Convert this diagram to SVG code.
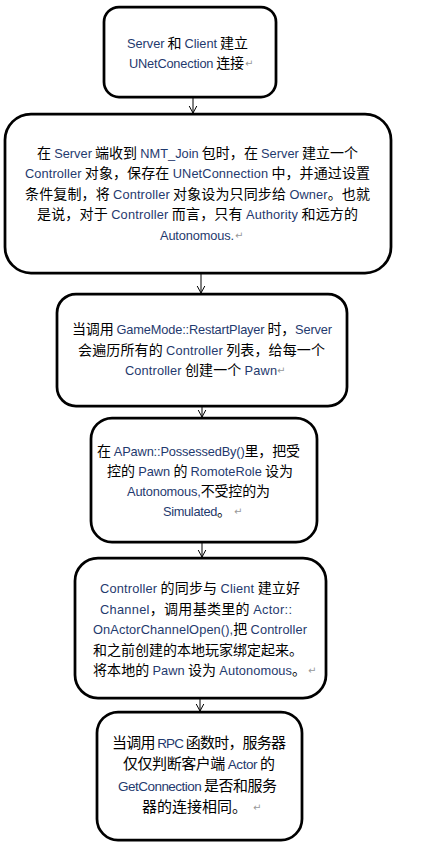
<svg xmlns="http://www.w3.org/2000/svg" width="435" height="842" viewBox="0 0 435 842">
<style>
.box{fill:#fff;stroke:#000;stroke-width:2.75}
.t{font-family:"Noto Sans CJK SC","Liberation Sans",sans-serif;font-size:14px;fill:#000}
.l{font-family:"Liberation Sans","Noto Sans CJK SC",sans-serif;font-size:12.8px;fill:#1F3A6E}
.t6{font-size:15px}
.t6 .l{font-size:13.5px}
.pm{font-family:"DejaVu Sans",sans-serif;font-size:10px;fill:#999}
.c{stroke:#000;stroke-width:1;fill:none}
</style>
<defs>
<marker id="arr" markerUnits="userSpaceOnUse" markerWidth="12" markerHeight="12" viewBox="-10 -6 12 12" refX="0" refY="0" orient="auto">
<path d="M-7,-3.8 L0,0 L-7,3.8" fill="none" stroke="#000" stroke-width="1"/>
</marker>
</defs>
<rect width="435" height="842" fill="#fff"/>
<g id="connectors">
<line class="c" x1="193" y1="97" x2="193" y2="113" marker-end="url(#arr)"/>
<line class="c" x1="201" y1="273" x2="201" y2="293" marker-end="url(#arr)"/>
<line class="c" x1="202" y1="406" x2="202" y2="417" marker-end="url(#arr)"/>
<line class="c" x1="202" y1="542" x2="202" y2="557" marker-end="url(#arr)"/>
<line class="c" x1="200" y1="698" x2="200" y2="711" marker-end="url(#arr)"/>
</g>
<g id="node1">
<rect class="box" x="104" y="7" width="172" height="90" rx="15"/>
<text class="t" x="127" y="48" textLength="121" lengthAdjust="spacing"><tspan class="l">Server</tspan> 和 <tspan class="l">Client</tspan> 建立</text>
<text class="t" x="129" y="68" textLength="115" lengthAdjust="spacing"><tspan class="l">UNetConection</tspan> 连接</text>
<text class="pm" x="245" y="67">↵</text>
</g>
<g id="node2">
<rect class="box" x="5" y="114" width="386" height="159" rx="26"/>
<text class="t" x="37" y="158" textLength="321" lengthAdjust="spacing">在 <tspan class="l">Server</tspan> 端收到 <tspan class="l">NMT_Join</tspan> 包时，在 <tspan class="l">Server</tspan> 建立一个</text>
<text class="t" x="25" y="178" textLength="345" lengthAdjust="spacing"><tspan class="l">Controller</tspan> 对象，保存在 <tspan class="l">UNetConnection</tspan> 中，并通过设置</text>
<text class="t" x="25" y="199" textLength="345" lengthAdjust="spacing">条件复制，将 <tspan class="l">Controller</tspan> 对象设为只同步给 <tspan class="l">Owner</tspan>。也就</text>
<text class="t" x="37" y="219" textLength="321" lengthAdjust="spacing">是说，对于 <tspan class="l">Controller</tspan> 而言，只有 <tspan class="l">Authority</tspan> 和远方的</text>
<text class="t" x="160" y="240" textLength="74" lengthAdjust="spacing"><tspan class="l">Autonomous.</tspan></text>
<text class="pm" x="235" y="239">↵</text>
</g>
<g id="node3">
<rect class="box" x="57" y="294" width="290" height="112" rx="19"/>
<text class="t" x="72" y="334" textLength="260" lengthAdjust="spacing">当调用 <tspan class="l">GameMode::RestartPlayer</tspan> 时，<tspan class="l">Server</tspan></text>
<text class="t" x="78" y="355" textLength="247" lengthAdjust="spacing">会遍历所有的 <tspan class="l">Controller</tspan> 列表，给每一个</text>
<text class="t" x="125" y="375" textLength="152" lengthAdjust="spacing"><tspan class="l">Controller</tspan> 创建一个 <tspan class="l">Pawn</tspan></text>
<text class="pm" x="277" y="374">↵</text>
</g>
<g id="node4">
<rect class="box" x="91" y="418" width="226" height="124" rx="21"/>
<text class="t" x="97" y="456" textLength="203" lengthAdjust="spacing">在 <tspan class="l">APawn::PossessedBy()</tspan>里，把受</text>
<text class="t" x="107" y="476" textLength="186" lengthAdjust="spacing">控的 <tspan class="l">Pawn</tspan> 的 <tspan class="l">RomoteRole</tspan> 设为</text>
<text class="t" x="127" y="496" textLength="143" lengthAdjust="spacing"><tspan class="l">Autonomous,</tspan>不受控的为</text>
<text class="t" x="163" y="516" textLength="68" lengthAdjust="spacing"><tspan class="l">Simulated</tspan>。</text>
<text class="pm" x="234" y="515">↵</text>
</g>
<g id="node5">
<rect class="box" x="75" y="558" width="251" height="140" rx="23"/>
<text class="t" x="100" y="593" textLength="200" lengthAdjust="spacing"><tspan class="l">Controller</tspan> 的同步与 <tspan class="l">Client</tspan> 建立好</text>
<text class="t" x="100" y="614" textLength="192" lengthAdjust="spacing"><tspan class="l">Channel</tspan>，调用基类里的 <tspan class="l">Actor::</tspan></text>
<text class="t" x="93" y="634" textLength="214" lengthAdjust="spacing"><tspan class="l">OnActorChannelOpen(),</tspan>把 <tspan class="l">Controller</tspan></text>
<text class="t" x="93" y="655">和之前创建的本地玩家绑定起来。</text>
<text class="t" x="93" y="675" textLength="213" lengthAdjust="spacing">将本地的 <tspan class="l">Pawn</tspan> 设为 <tspan class="l">Autonomous</tspan>。</text>
<text class="pm" x="308" y="674">↵</text>
</g>
<g id="node6">
<rect class="box" x="97" y="712" width="205" height="128" rx="21"/>
<text class="t t6" x="112" y="748" textLength="174" lengthAdjust="spacing">当调用 <tspan class="l">RPC</tspan> 函数时，服务器</text>
<text class="t t6" x="123" y="769" textLength="152" lengthAdjust="spacing">仅仅判断客户端 <tspan class="l">Actor</tspan> 的</text>
<text class="t t6" x="118" y="791" textLength="159" lengthAdjust="spacing"><tspan class="l">GetConnection</tspan> 是否和服务</text>
<text class="t t6" x="142" y="812">器的连接相同。</text>
<text class="pm" x="253" y="811">↵</text>
</g>
</svg>
